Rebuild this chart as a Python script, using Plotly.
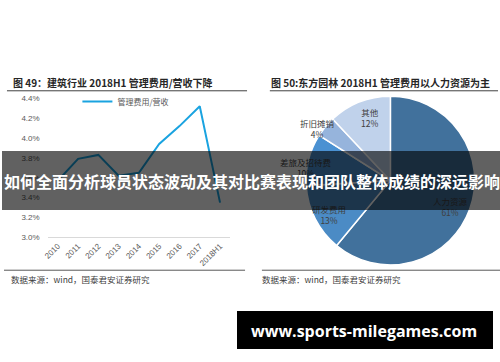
import plotly.graph_objects as go

# ---------------- data ----------------
years = ["2010", "2011", "2012", "2013", "2014", "2015", "2016", "2017", "2018H1"]
ratio = [3.57, 3.79, 3.83, 3.62, 3.65, 3.94, 4.12, 4.32, 3.35]   # 管理费用/营收 (%)
y_tick_vals = [3.0, 3.2, 3.4, 3.6, 3.8, 4.0, 4.2, 4.4]
y_tick_text = ["3.0%", "3.2%", "3.4%", "3.6%", "3.8%", "4.0%", "4.2%", "4.4%"]
line_name = "管理费用/营收"

pie_labels = ["人力资源", "研发费用", "差旅及招待费", "折旧摊销", "其他"]
pie_values = [61, 13, 10, 4, 12]

left_title = "图 49：建筑行业 2018H1 管理费用/营收下降"
right_title = "图 50:东方园林 2018H1 管理费用以人力资源为主"
source_text = "数据来源：wind，国泰君安证券研究"
banner_text = "如何全面分析球员状态波动及其对比赛表现和团队整体成绩的深远影响"
url_text = "www.sports-milegames.com"

# ---------------- layout helpers ----------------
W, H = 500, 362
def px(x):
    return x / W
def py(y):
    return 1 - y / H

CJK = "Noto Sans CJK SC"
LAT = "Liberation Sans"

fig = go.Figure()

fig.add_trace(go.Scatter(
    x=years, y=ratio, mode="lines", name=line_name,
    line=dict(color="#1AA3E0", width=2),
    xaxis="x", yaxis="y", showlegend=True,
))

pie_colors = ["#41719C", "#4B8BC5", "#4A91D2", "#96B4DC", "#C0D2EB"]
fig.add_trace(go.Pie(
    labels=pie_labels, values=pie_values, sort=False, direction="clockwise",
    rotation=0, textinfo="none", hoverinfo="label+percent",
    marker=dict(colors=pie_colors, line=dict(color="white", width=1.5)),
    domain=dict(x=[px(303), px(476)], y=[py(267.5), py(94.5)]),
    showlegend=False,
))

annotations = []
# titles
for x0, t in [(7, left_title), (267, right_title)]:
    annotations.append(dict(x=px(x0), y=py(81), xref="paper", yref="paper",
                            xanchor="left", yanchor="middle", showarrow=False,
                            text="<b>" + t + "</b>",
                            font=dict(family=CJK, size=10, color="#262626")))
# sources
for x0 in [5, 258]:
    annotations.append(dict(x=px(x0), y=py(282), xref="paper", yref="paper",
                            xanchor="left", yanchor="middle", showarrow=False,
                            text=source_text,
                            font=dict(family=CJK, size=8.5, color="#404040")))
# pie labels (text placement)
label_pos = [(450, 207.5), (328, 216), (304, 168), (316, 127.5), (369, 116)]
for (lx, ly), lab, val in zip(label_pos, pie_labels, pie_values):
    annotations.append(dict(x=px(lx), y=py(ly), xref="paper", yref="paper",
                            xanchor="center", yanchor="middle", showarrow=False,
                            text=f"{lab}<br>{val}%",
                            font=dict(family=CJK, size=8.5, color="#404040")))
# banner overlay (box, then text)
annotations.append(dict(x=0.5, y=py(181.5), xref="paper", yref="paper",
                        xanchor="center", yanchor="middle", showarrow=False,
                        width=500, height=59, borderpad=0, borderwidth=0,
                        bgcolor="rgba(0,0,0,0.62)", text=" ",
                        font=dict(size=10)))
annotations.append(dict(x=0.5, y=py(181.5), xref="paper", yref="paper",
                        xanchor="center", yanchor="middle", showarrow=False,
                        text="<b>" + banner_text + "</b>",
                        font=dict(family=CJK, size=16, color="white")))
# url box
annotations.append(dict(x=px(364), y=py(334), xref="paper", yref="paper",
                        xanchor="center", yanchor="middle", showarrow=False,
                        width=256, height=38, borderpad=0, borderwidth=0,
                        bgcolor="black", text=" ", font=dict(size=10)))
annotations.append(dict(x=px(363), y=py(335), xref="paper", yref="paper",
                        xanchor="center", yanchor="middle", showarrow=False,
                        text="<b>" + url_text + "</b>",
                        font=dict(family="Open Sans", size=16, color="white")))

shapes = []
for x0, x1, y0, c in [(3, 245, 89, "#404040"), (268, 498, 89, "#404040"),
                      (0, 243, 273, "#595959"), (260, 500, 273, "#595959")]:
    shapes.append(dict(type="line", xref="paper", yref="paper",
                       x0=px(x0), x1=px(x1), y0=py(y0), y1=py(y0),
                       line=dict(color=c, width=1)))

fig.update_layout(
    width=W, height=H,
    margin=dict(l=0, r=0, t=0, b=0),
    paper_bgcolor="white", plot_bgcolor="white",
    xaxis=dict(domain=[px(44), px(228)], type="category",
               range=[-0.5, len(years) - 0.5],
               showgrid=False, zeroline=False, showline=True,
               linecolor="#D9D9D9", linewidth=1, ticks="",
               tickangle=-45, tickfont=dict(family=LAT, size=8, color="#595959"),
               anchor="y", fixedrange=True),
    yaxis=dict(domain=[py(239.3), py(96.7)], range=[3.0, 4.4],
               tickvals=y_tick_vals, ticktext=y_tick_text,
               showgrid=False, zeroline=False, showline=False, ticks="",
               ticklabelstandoff=7,
               tickfont=dict(family=LAT, size=8, color="#595959"),
               anchor="x", fixedrange=True),
    legend=dict(x=px(74), y=py(100), xanchor="left", yanchor="middle",
                bgcolor="rgba(0,0,0,0)", borderwidth=0, itemwidth=30,
                font=dict(family=CJK, size=8, color="#595959")),
    annotations=annotations,
    shapes=shapes,
)

fig.write_html(
    "out.html",
    config={"displayModeBar": False},
    post_script="document.body.style.margin='0';document.body.style.overflow='hidden';",
)
